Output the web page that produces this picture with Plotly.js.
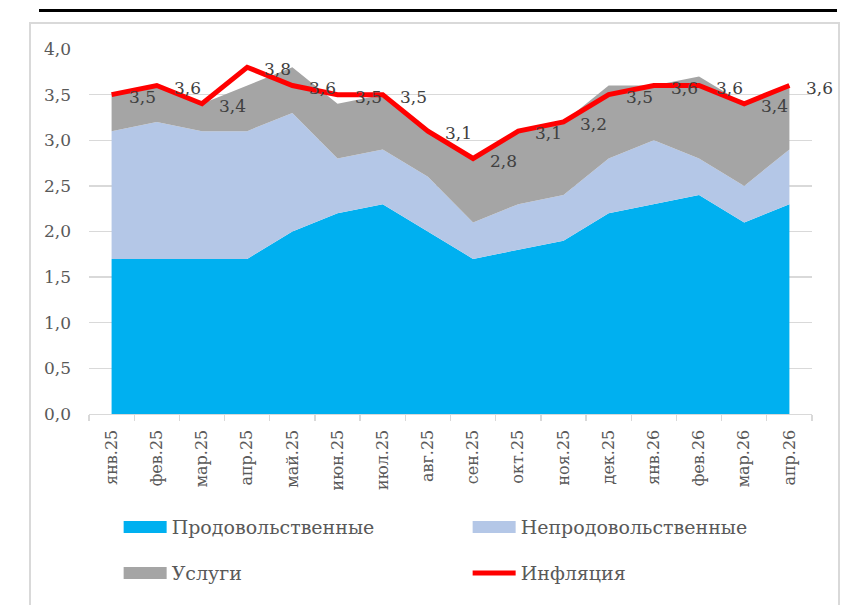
<!DOCTYPE html>
<html>
<head>
<meta charset="utf-8">
<script src="https://cdn.plot.ly/plotly-3.0.1.min.js"></script>
<style>
  body { margin: 0; background: #fff; }
  #topline { position: absolute; left: 39px; top: 9px; width: 798px; height: 3px; background: #000; }
  #box { position: absolute; left: 29px; top: 22px; width: 807px; height: 620px;
         border: 2px solid #d9d9d9; border-bottom: none; }
  #infl { position: absolute; left: 0; top: 0; width: 844px; height: 605px; }
</style>
</head>
<body>
<div id="topline"></div>
<div id="box"></div>
<div id="infl"></div>
<script>
var months = ['янв.25','фев.25','мар.25','апр.25','май.25','июн.25','июл.25','авг.25',
              'сен.25','окт.25','ноя.25','дек.25','янв.26','фев.26','мар.26','апр.26'];
var food     = [1.7,1.7,1.7,1.7,2.0,2.2,2.3,2.0,1.7,1.8,1.9,2.2,2.3,2.4,2.1,2.3];
var nonfood  = [1.4,1.5,1.4,1.4,1.3,0.6,0.6,0.6,0.4,0.5,0.5,0.6,0.7,0.4,0.4,0.6];
var services = [0.4,0.4,0.3,0.5,0.5,0.6,0.6,0.5,0.7,0.8,0.8,0.8,0.6,0.9,0.9,0.7];
var inflation = [3.5,3.6,3.4,3.8,3.6,3.5,3.5,3.1,2.8,3.1,3.2,3.5,3.6,3.6,3.4,3.6];

var serif = 'DejaVu Serif, Liberation Serif, serif';

function area(y, name, color, leg) {
  return {
    x: months, y: y, name: name, type: 'scatter', mode: 'lines',
    stackgroup: 'one', fillcolor: color, line: {width: 0, color: color},
    legend: leg, hoverinfo: 'none'
  };
}

var data = [
  area(food, 'Продовольственные', '#00b0f0', 'legend'),
  area(nonfood, 'Непродовольственные', '#b4c7e7', 'legend'),
  area(services, 'Услуги', '#a5a5a5', 'legend2'),
  {
    x: months, y: inflation, name: 'Инфляция', type: 'scatter', mode: 'lines',
    line: {color: '#ff0000', width: 5}, legend: 'legend2', hoverinfo: 'none'
  }
];

// data labels to the right of each point
var labels = [];
for (var i = 0; i < months.length; i++) {
  labels.push({
    x: months[i], y: inflation[i], xref: 'x', yref: 'y',
    text: inflation[i].toFixed(1).replace('.', ','),
    showarrow: false, xanchor: 'left', yanchor: 'middle', xshift: 15, yshift: -2,
    font: {family: serif, size: 17, color: '#404040'}
  });
}

var legendBase = {
  orientation: 'h', x: 0.041, xanchor: 'left', yanchor: 'middle',
  entrywidth: 291, entrywidthmode: 'pixels', itemwidth: 43, traceorder: 'normal',
  bgcolor: 'rgba(0,0,0,0)', font: {family: serif, size: 19, color: '#595959'}
};

var layout = {
  width: 844, height: 605,
  margin: {l: 89, r: 32, t: 49, b: 191, autoexpand: false},
  paper_bgcolor: 'rgba(0,0,0,0)', plot_bgcolor: 'rgba(0,0,0,0)',
  separators: ', ',
  showlegend: true,
  legend: Object.assign({}, legendBase, {y: -0.31}),
  legend2: Object.assign({}, legendBase, {y: -0.436}),
  xaxis: {
    type: 'category', range: [-0.5, 15.5], tickson: 'boundaries',
    ticks: 'outside', ticklen: 6, tickcolor: '#d9d9d9', tickwidth: 1.3,
    showline: true, linecolor: '#d9d9d9', linewidth: 1.3, showgrid: false,
    tickangle: -90, ticklabelstandoff: 8,
    tickfont: {family: serif, size: 16, color: '#595959'}
  },
  yaxis: {
    range: [0, 4], dtick: 0.5, tickformat: '.1f',
    showgrid: true, gridcolor: '#d9d9d9', gridwidth: 1.3,
    zeroline: false, showline: false, ticks: '', ticklabelstandoff: 17,
    tickfont: {family: serif, size: 17, color: '#595959'}
  },
  annotations: labels
};

Plotly.newPlot('infl', data, layout, {displayModeBar: false, staticPlot: true}).then(function (gd) {
  // taller area swatches in the legend, like the original
  var fills = gd.querySelectorAll('.legendfill path');
  for (var k = 0; k < fills.length; k++) {
    fills[k].setAttribute('d', 'M5,-6h43v12h-43z');
  }
});
</script>
</body>
</html>
